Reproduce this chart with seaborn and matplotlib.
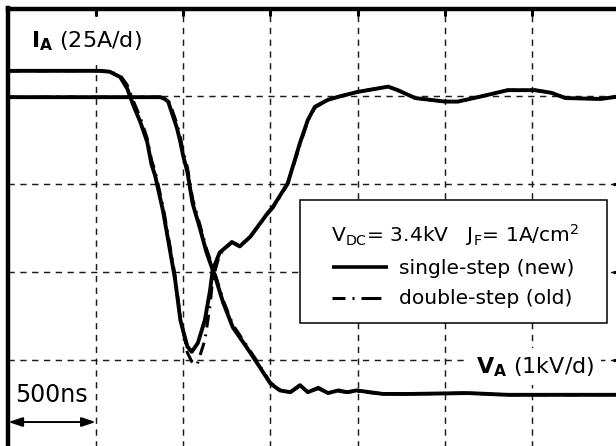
import matplotlib
matplotlib.use("Agg")
import matplotlib.pyplot as plt
import pandas as pd
import seaborn as sns
from matplotlib.lines import Line2D
from matplotlib.patches import Rectangle

# ---------------- data (time in divisions of 500 ns, signal in divisions) ----------------
t_ia_new = [0.00, 1.05, 1.16, 1.28, 1.36, 1.43, 1.51, 1.59, 1.64, 1.68, 1.77, 1.85, 1.91, 1.97,
            2.05, 2.10, 2.17, 2.25, 2.31, 2.34, 2.42, 2.56, 2.65, 2.77, 2.97, 3.03, 3.20, 3.34,
            3.43, 3.51, 3.66, 3.80, 4.00, 4.35, 4.46, 4.66, 5.00, 5.15, 5.42, 5.72, 6.03, 6.22,
            6.38, 6.79, 7.00]
ia_new = [4.29, 4.29, 4.28, 4.22, 4.09, 3.90, 3.71, 3.48, 3.22, 3.10, 2.70, 2.25, 1.91, 1.45,
          1.15, 1.09, 1.19, 1.45, 1.79, 2.02, 2.22, 2.34, 2.29, 2.40, 2.67, 2.74, 3.01, 3.47,
          3.73, 3.88, 3.96, 4.00, 4.05, 4.11, 4.07, 3.98, 3.94, 3.94, 4.00, 4.07, 4.07, 4.04,
          3.98, 3.97, 4.00]

t_ia_old = [0.00, 1.05, 1.16, 1.28, 1.36, 1.43, 1.51, 1.59, 1.64, 1.68, 1.77, 1.85, 1.91, 1.97,
            2.05, 2.10, 2.16, 2.25, 2.31, 2.34, 2.42, 2.56, 2.65, 2.77, 2.97, 3.03, 3.20, 3.34,
            3.43, 3.51, 3.66, 3.80, 4.00, 4.35, 4.46, 4.66, 5.00, 5.15, 5.42, 5.72, 6.03, 6.22,
            6.38, 6.79, 7.00]
ia_old = [4.29, 4.29, 4.28, 4.24, 4.13, 3.95, 3.76, 3.52, 3.27, 3.15, 2.75, 2.30, 1.95, 1.48,
          1.08, 0.98, 0.94, 1.22, 1.62, 1.92, 2.20, 2.34, 2.30, 2.40, 2.66, 2.73, 3.00, 3.45,
          3.72, 3.87, 3.96, 4.00, 4.05, 4.11, 4.07, 3.98, 3.94, 3.94, 4.00, 4.07, 4.07, 4.04,
          3.98, 3.97, 4.00]

t_va_new = [0.00, 1.74, 1.79, 1.83, 1.87, 1.93, 1.97, 2.00, 2.05, 2.11, 2.19, 2.27, 2.37, 2.46,
            2.57, 2.73, 2.85, 3.00, 3.11, 3.23, 3.34, 3.43, 3.55, 3.66, 3.78, 3.88, 3.99, 4.29,
            4.60, 5.26, 5.72, 7.00]
va_new = [3.99, 3.99, 3.97, 3.94, 3.82, 3.64, 3.48, 3.33, 3.14, 2.78, 2.51, 2.22, 1.94, 1.65,
          1.37, 1.14, 0.96, 0.73, 0.65, 0.63, 0.71, 0.63, 0.68, 0.62, 0.65, 0.63, 0.65, 0.61,
          0.61, 0.62, 0.60, 0.60]

t_va_old = [0.00, 1.74, 1.79, 1.83, 1.87, 1.93, 1.97, 2.00, 2.05, 2.11, 2.19, 2.27, 2.37, 2.46,
            2.57, 2.73, 2.85, 3.00, 3.11, 3.23, 3.34, 3.43, 3.55, 3.66, 3.78, 3.88, 3.99, 4.29,
            4.60, 5.26, 5.72, 7.00]
va_old = [3.99, 3.99, 3.98, 3.96, 3.86, 3.69, 3.53, 3.38, 3.19, 2.83, 2.55, 2.26, 1.97, 1.68,
          1.40, 1.16, 0.98, 0.74, 0.66, 0.63, 0.70, 0.63, 0.67, 0.62, 0.64, 0.63, 0.64, 0.61,
          0.61, 0.62, 0.60, 0.60]

x_divs = [0, 1, 2, 3, 4, 5, 6, 7]
y_divs = [0, 1, 2, 3, 4, 5]

label_ia = r"$\mathbf{I_A}$ (25A/d)"
label_va = r"$\mathbf{V_A}$ (1kV/d)"
label_time = "500ns"
legend_title = r"$V_{DC}$= 3.4kV   $J_F$= 1A/cm$^2$"
series_labels = ["single-step (new)", "double-step (old)"]

# ---------------- long-form table ----------------
parts = []
for curve, version, t, v in [("I_A", "old", t_ia_old, ia_old), ("V_A", "old", t_va_old, va_old),
                             ("I_A", "new", t_ia_new, ia_new), ("V_A", "new", t_va_new, va_new)]:
    parts.append(pd.DataFrame({"t": t, "v": v, "curve": curve, "version": version}))
df = pd.concat(parts, ignore_index=True)

# ---------------- style ----------------
sns.set_style("white")
plt.rcParams["font.family"] = ["DejaVu Sans"]
plt.rcParams["mathtext.default"] = "regular"
plt.rcParams["text.color"] = "black"

W, H = 616, 446
fig = plt.figure(figsize=(W / 100, H / 100), dpi=100)
ax = fig.add_axes([8.4 / W, -1.5 / H, 611.1 / W, 439.0 / H])


def fx(px):
    return px / W


def fy(py):
    return 1 - py / H


dashdot = (0, (4.2, 2.2, 0.6, 2.3))
sns.lineplot(data=df[df.version == "old"], x="t", y="v", units="curve", estimator=None,
             sort=False, color="black", lw=2.2, linestyle=dashdot, ax=ax, legend=False,
             zorder=3)
sns.lineplot(data=df[df.version == "new"], x="t", y="v", units="curve", estimator=None,
             sort=False, color="black", lw=2.8, solid_joinstyle="round", ax=ax, legend=False,
             zorder=3.5)

ax.set_xlim(x_divs[0], x_divs[-1])
ax.set_ylim(y_divs[0], y_divs[-1])
ax.set_xticks(x_divs)
ax.set_yticks(y_divs)
ax.set_xlabel("")
ax.set_ylabel("")
ax.tick_params(which="both", direction="in", length=5, width=2.2, color="black",
               top=True, right=True, labelleft=False, labelbottom=False)
ax.grid(True, color="#1a1a1a", linestyle=(0, (4.3, 3.8)), linewidth=1.05)
ax.set_axisbelow(True)
for s in ax.spines.values():
    s.set_linewidth(3.2)
    s.set_color("black")
    s.set_visible(True)

# labels
ax.text(fx(31), fy(47), label_ia, transform=fig.transFigure, fontsize=16, ha="left",
        va="baseline", zorder=3.2, color="black",
        bbox=dict(boxstyle="square,pad=0.55", facecolor="white", edgecolor="none"))
ax.text(fx(476), fy(373), label_va, transform=fig.transFigure, fontsize=16, ha="left",
        va="baseline", zorder=3.2, color="black",
        bbox=dict(boxstyle="square,pad=0.3", facecolor="white", edgecolor="none"))
ax.text(fx(15), fy(402), label_time, transform=fig.transFigure, fontsize=17, ha="left",
        va="baseline", zorder=3.2, color="black")
ax.annotate("", xy=(x_divs[0], 0.29), xytext=(x_divs[1], 0.29),
            arrowprops=dict(arrowstyle="<|-|>,head_length=0.6,head_width=0.2", color="black",
                            lw=1.4, mutation_scale=14, shrinkA=0, shrinkB=0), zorder=4)

# legend box
fig.add_artist(Rectangle((fx(300), fy(323)), 307 / W, 123 / H, transform=fig.transFigure,
                         facecolor="white", edgecolor="black", lw=1.1, zorder=5))
fig.text(fx(331), fy(242), legend_title, fontsize=14.6, ha="left", va="baseline", zorder=6,
         color="black")
fig.add_artist(Line2D([fx(332), fx(388)], [fy(267), fy(267)], transform=fig.transFigure,
                      color="black", lw=2.6, solid_capstyle="butt", zorder=6))
fig.add_artist(Line2D([fx(332), fx(382)], [fy(298), fy(298)], transform=fig.transFigure,
                      color="black", lw=2.2, linestyle=(0, (4.25, 2.3, 0.65, 2.3, 6.5, 10)),
                      dash_capstyle="butt", zorder=6))
fig.text(fx(399), fy(269), series_labels[0], fontsize=14.6, ha="left", va="center", zorder=6,
         color="black")
fig.text(fx(399), fy(299), series_labels[1], fontsize=14.6, ha="left", va="center", zorder=6,
         color="black")

fig.savefig("out.png", dpi=100)
